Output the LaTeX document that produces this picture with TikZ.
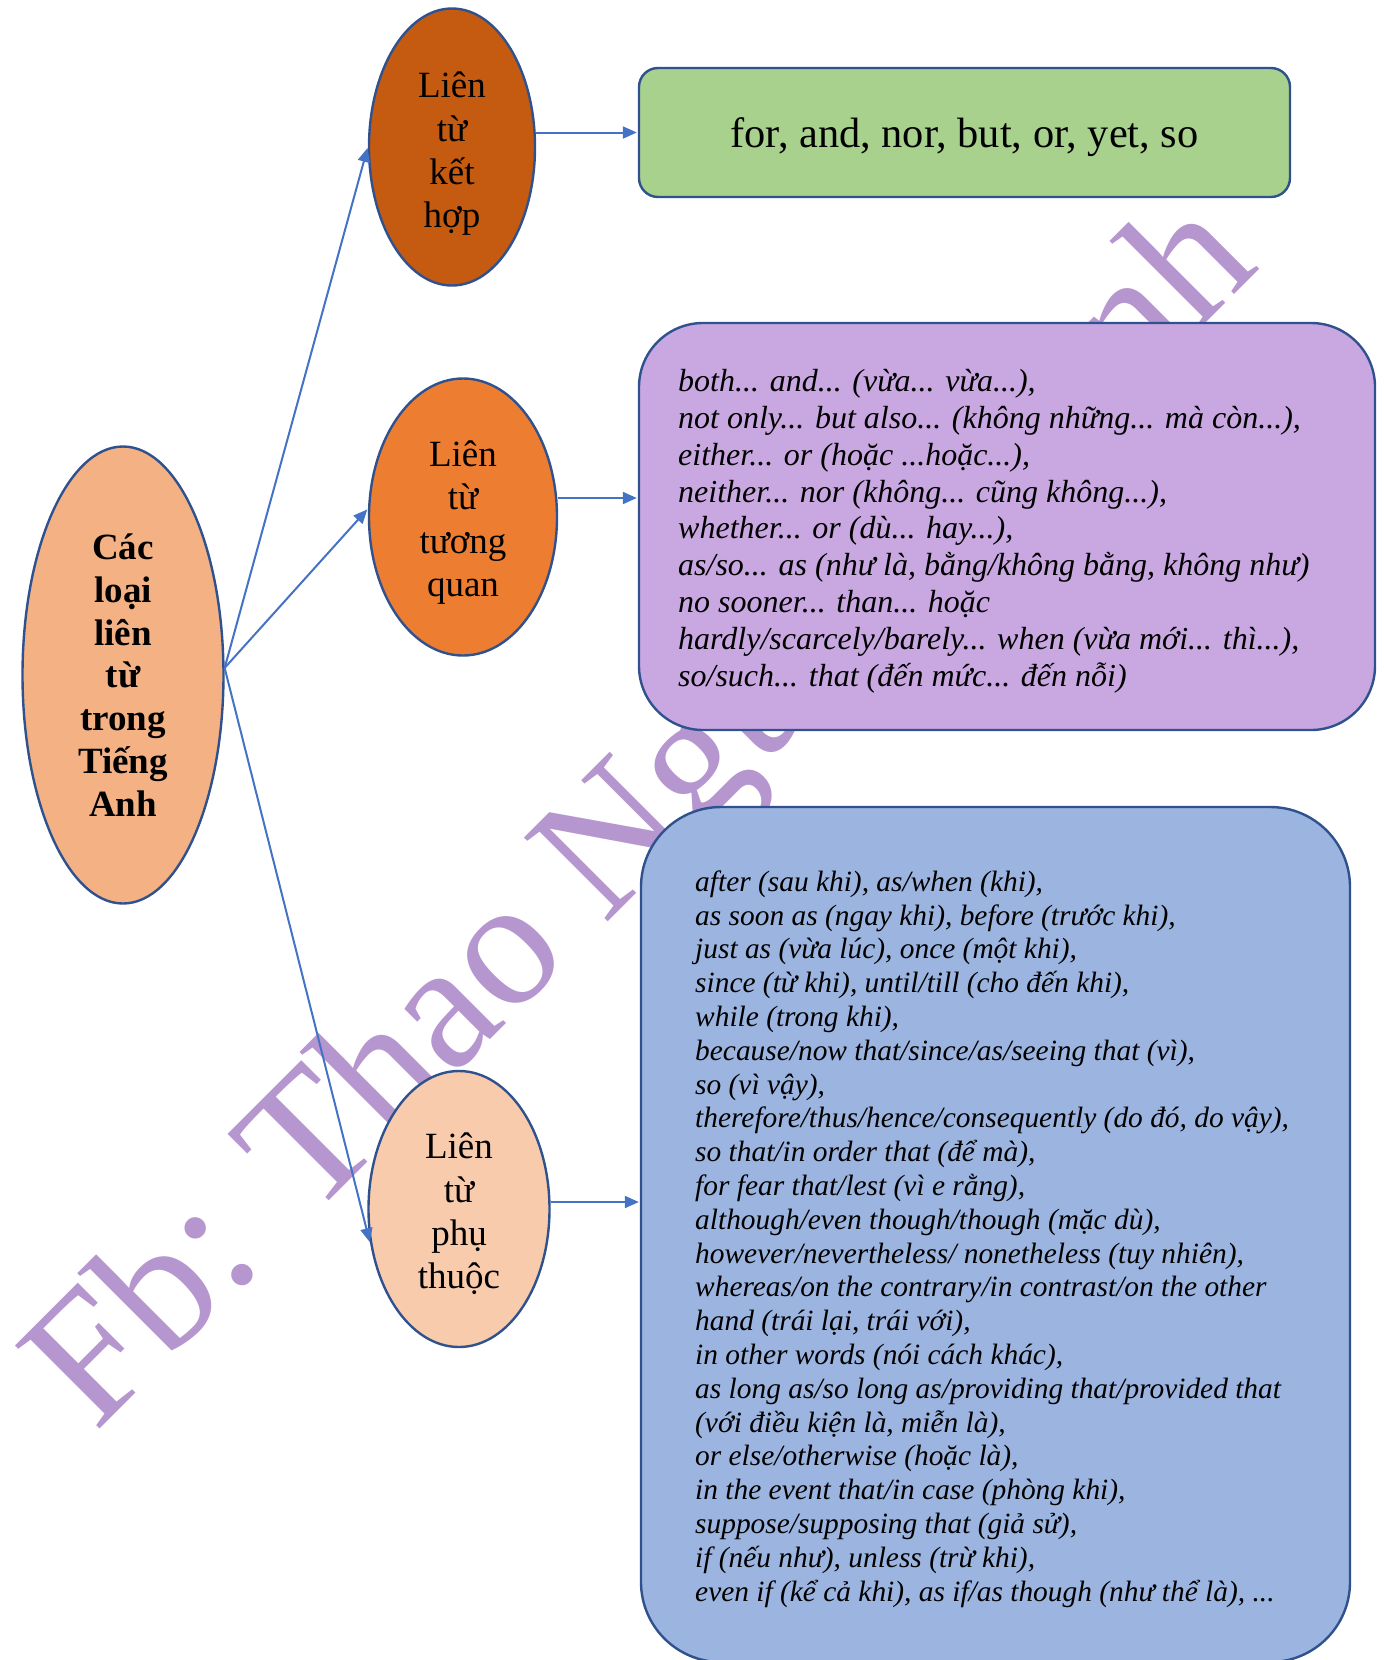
\documentclass[tikz,border=0pt]{standalone}
\usepackage{xcolor}
\usepackage{fontspec}
\setmainfont{Liberation Serif}
\usepackage{tikz}
\usetikzlibrary{shapes.geometric,arrows.meta}
\definecolor{rim}{HTML}{2F528F}
\definecolor{link}{HTML}{4472C4}
\definecolor{loaifill}{HTML}{F4B183}
\definecolor{kethopfill}{HTML}{C55A11}
\definecolor{tuongquanfill}{HTML}{ED7D31}
\definecolor{phuthuocfill}{HTML}{F8CBAD}
\definecolor{greenfill}{HTML}{A9D18E}
\definecolor{purplefill}{HTML}{C9A8E2}
\definecolor{bluefill}{HTML}{9CB4E0}
\definecolor{wmpurple}{HTML}{B696CE}
\newcommand{\nodepth}[2][-1.8pt]{\raisebox{0pt}[\height][#1]{#2}}
\newcommand{\tophigh}[2][3pt]{\raisebox{0pt}[\dimexpr\height+#1\relax]{#2}}
\tikzset{>={Triangle[length=7pt,width=6pt]}}
\tikzset{
    oval/.style={ellipse,draw=rim,line width=1.2pt,inner sep=0pt,align=center,
        font=\fontsize{18.5}{21.7}\selectfont},
    listbox/.style={rectangle,draw=rim,line width=1.2pt,inner sep=0pt},
    listtext/.style={anchor=west,align=left,inner sep=0pt},
    conn/.style={->,draw=link,line width=1pt,shorten >=0.5pt},
    watermark/.style={rotate=45,text=wmpurple,inner sep=0pt,
        font=\fontsize{90.5}{90.5}\selectfont}
}

\begin{document}
\begin{tikzpicture}[x=0.5pt,y=-0.5pt]
    \useasboundingbox (0,0) rectangle (1383,1660);

    \node[watermark] (fb) at (645,817) {Fb: Thao Nguyễn Anh};

    \node[oval,fill=loaifill,minimum width=100.5pt,minimum height=228.5pt,
        font=\bfseries\fontsize{18.5}{21.4}\selectfont] (loai) at (123,675)
        {Các\\loại\\liên\\từ\\trong\\Tiếng\\Anh};
    \node[oval,fill=kethopfill,minimum width=83pt,minimum height=138.5pt] (kethop) at (452,147)
        {\tophigh{Liên}\\từ\\kết\\\nodepth[0pt]{hợp}};
    \node[oval,fill=tuongquanfill,minimum width=94pt,minimum height=138.5pt] (tuongquan) at (463,517)
        {\tophigh[1.5pt]{Liên}\\từ\\tương\\\nodepth[0pt]{quan}};
    \node[oval,fill=phuthuocfill,minimum width=90.5pt,minimum height=138pt] (phuthuoc) at (459,1209)
        {\tophigh[2pt]{Liên}\\từ\\phụ\\\nodepth[0pt]{thuộc}};

    \node[listbox,fill=greenfill,rounded corners=9.5pt,minimum width=325.5pt,minimum height=64.5pt,
        font=\fontsize{21.2}{24}\selectfont] (kethoplist) at (964.5,132.5)
        {\nodepth{for, and, nor, but, or, yet, so}};
    \node[listbox,fill=purplefill,rounded corners=32pt,minimum width=368pt,minimum height=203.5pt]
        (tuongquanbox) at (1007,526.5) {};
    \node[listbox,fill=bluefill,rounded corners=40pt,minimum width=354.5pt,minimum height=427.5pt]
        (phuthuocbox) at (995.5,1234.5) {};

    \node[listtext,font=\itshape\fontsize{16}{18.4}\selectfont] (tuongquanlist)
        at ([xshift=20pt,yshift=-2.3pt]tuongquanbox.west)
        {both... and... (vừa... vừa...),\\
        not only... but also... (không những... mà còn...),\\
        either... or (hoặc ...hoặc...),\\
        neither... nor (không... cũng không...),\\
        whether... or (dù... hay...),\\
        as/so... as (như là, bằng/không bằng, không như)\\
        no sooner... than... hoặc\\
        hardly/scarcely/barely... when (vừa mới... thì...),\\
        so/such... that (đến mức... đến nỗi)};
    \node[listtext,font=\itshape\fontsize{14.7}{16.9}\selectfont] (phuthuoclist)
        at ([xshift=27.5pt,yshift=-2.2pt]phuthuocbox.west)
        {after (sau khi), as/when (khi),\\
        as soon as (ngay khi), before (trước khi),\\
        just as (vừa lúc), once (một khi),\\
        since (từ khi), until/till (cho đến khi),\\
        while (trong khi),\\
        because/now that/since/as/seeing that (vì),\\
        so (vì vậy),\\
        therefore/thus/hence/consequently (do đó, do vậy),\\
        so that/in order that (để mà),\\
        for fear that/lest (vì e rằng),\\
        although/even though/though (mặc dù),\\
        however/nevertheless/ nonetheless (tuy nhiên),\\
        whereas/on the contrary/in contrast/on the other\\
        hand (trái lại, trái với),\\
        in other words (nói cách khác),\\
        as long as/so long as/providing that/provided that\\
        (với điều kiện là, miễn là),\\
        or else/otherwise (hoặc là),\\
        in the event that/in case (phòng khi),\\
        suppose/supposing that (giả sử),\\
        if (nếu như), unless (trừ khi),\\
        even if (kể cả khi), as if/as though (như thể là), ...};

    \draw[conn] (loai.4) -- (kethop.west);
    \draw[conn] (loai.4) -- (tuongquan.175);
    \draw[conn] (loai.4) -- (phuthuoc.201);

    \coordinate (khout) at (kethop.east |- kethoplist.west);
    \coordinate (tqout) at ([yshift=9.5pt]tuongquan.east);
    \coordinate (ptout) at ([yshift=3.5pt]phuthuoc.east);
    \draw[conn] (khout) -- (kethoplist.west);
    \draw[conn] (tqout) -- (tqout -| tuongquanbox.west);
    \draw[conn] (ptout) -- (ptout -| phuthuocbox.west);
\end{tikzpicture}
\end{document}
